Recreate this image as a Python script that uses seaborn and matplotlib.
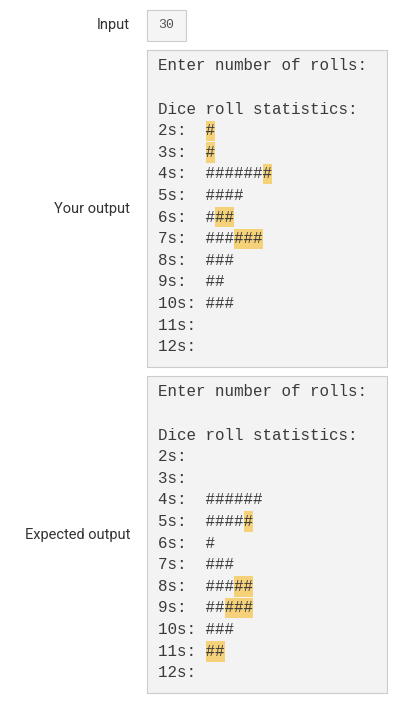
import matplotlib
matplotlib.use('Agg')
import matplotlib.pyplot as plt
import seaborn as sns
from matplotlib.patches import Rectangle

sns.set_theme(style='white')
plt.rcParams['font.family'] = ['Roboto', 'DejaVu Sans']

# 데이터
input_value = '30'
sums = ['2s:', '3s:', '4s:', '5s:', '6s:', '7s:', '8s:', '9s:', '10s:', '11s:', '12s:']
your_counts = [1, 1, 7, 4, 3, 6, 3, 2, 3, 0, 0]
your_highlight = [1, 1, 1, 0, 2, 3, 0, 0, 0, 0, 0]      # 끝에서부터 강조된 개수
expected_counts = [0, 0, 6, 5, 1, 3, 5, 5, 3, 2, 0]
expected_highlight = [0, 0, 0, 1, 0, 0, 2, 3, 0, 2, 0]

W, H = 416, 712
fig = plt.figure(figsize=(W / 100, H / 100), dpi=100)
ax = fig.add_axes([0, 0, 1, 1])
ax.set_xlim(0, W)
ax.set_ylim(H, 0)
ax.axis('off')

CW = 9.5      # 글자 폭(px)
LH = 21.6     # 줄 간격(px)
MONO = dict(family=['Liberation Mono', 'DejaVu Sans Mono'], fontsize=11.4, color='#3a3a3a', va='center')
LABEL = dict(fontsize=10.5, color='#333333', ha='right', va='center')

# Input
ax.text(130, 25, 'Input', **LABEL)
ax.add_patch(Rectangle((147, 10), 39, 31, facecolor='#f5f5f5', edgecolor='#cccccc', lw=0.8))
ax.text(158, 25.5, input_value, family=['Liberation Mono'], fontsize=9.5, color='#555555', va='center')


def draw_box(top, label, counts, highlight):
    ax.add_patch(Rectangle((147, top), 240, 317, facecolor='#f3f3f3', edgecolor='#cccccc', lw=0.8))
    ax.text(130, top + 159, label, **LABEL)
    x0 = 158
    y = top + 16
    ax.text(x0, y, 'Enter number of rolls:', **MONO)
    y += 2 * LH
    ax.text(x0, y, 'Dice roll statistics:', **MONO)
    rows_y = [y + LH * (i + 1) for i in range(len(sums))]
    # 강조 막대
    lefts = [x0 + CW * (5 + c - h) for c, h in zip(counts, highlight)]
    widths = [CW * h for h in highlight]
    ax.barh(rows_y, widths, left=lefts, height=LH - 1, color='#f5d27a', linewidth=0, zorder=1)
    for ry, s, c in zip(rows_y, sums, counts):
        ax.text(x0, ry, s.ljust(5) + '#' * c, zorder=2, **MONO)


draw_box(50, 'Your output', your_counts, your_highlight)
draw_box(376, 'Expected output', expected_counts, expected_highlight)

fig.savefig('out.png', dpi=100)
